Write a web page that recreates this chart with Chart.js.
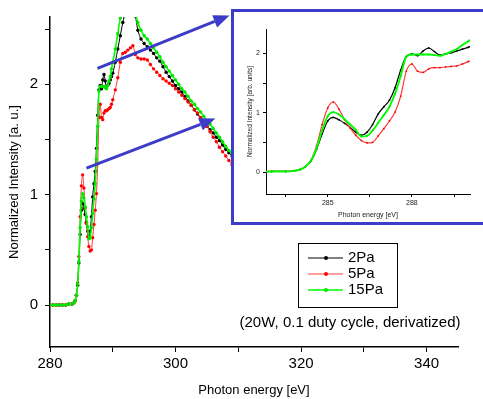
<!DOCTYPE html>
<html>
<head>
<meta charset="utf-8">
<script src="https://cdn.jsdelivr.net/npm/chart.js@4"></script>
<style>
body { margin: 0; background: #fff; overflow: hidden; }
#wrap { position: relative; width: 483px; height: 399px; overflow: hidden; }
#main { position: absolute; left: 0; top: 0; }
#inset-box { position: absolute; left: 231px; top: 9px; width: 260px; height: 210px; border: 3px solid #3c3cc8; background: #fff; }
#inset { position: absolute; left: 0; top: 0; }
</style>
</head>
<body>
<div id="wrap">
  <canvas id="main" width="483" height="399"></canvas>
  <div id="inset-box"><canvas id="inset" width="249" height="210"></canvas></div>
</div>
<script>
// energia dos fótons [eV]
const energia = [
  280, 280.5, 281, 281.5, 282, 282.5, 283, 283.5, 283.8, 284.0,
  284.2, 284.4, 284.6, 284.8, 285.0, 285.2, 285.4, 285.6, 285.8, 286.0,
  286.2, 286.4, 286.6, 286.8, 287.0, 287.2, 287.4, 287.6, 287.8, 288.0,
  288.2, 288.4, 288.6, 288.8, 289.0, 289.2, 289.4, 289.6, 289.8, 290.0,
  290.4, 290.8, 291.2, 291.6, 292.0, 292.4, 292.8, 293.2, 293.6, 294.0,
  294.5, 295, 295.5, 296, 296.5, 297, 297.5, 298, 298.5, 299,
  299.5, 300, 300.5, 301, 301.5, 302, 302.5, 303, 303.5, 304,
  304.5, 305, 305.5, 306, 306.5, 307, 307.5, 308, 308.5, 309,
  309.5, 310
];

// intensidade normalizada - 2Pa
const pa2 = [
  0, 0, 0, 0, 0, 0, 0.01, 0.01, 0.02, 0.04,
  0.09, 0.18, 0.38, 0.64, 0.86, 0.92, 0.88, 0.82, 0.75, 0.67,
  0.62, 0.67, 0.80, 0.98, 1.10, 1.21, 1.42, 1.72, 1.95, 1.99,
  1.96, 2.04, 2.09, 2.03, 1.97, 1.99, 2.01, 2.04, 2.07, 2.10,
  2.20, 2.32, 2.44, 2.56, 2.66, 2.72, 2.74, 2.70, 2.62, 2.49,
  2.41, 2.37, 2.34, 2.31, 2.28, 2.24, 2.21, 2.16, 2.11, 2.07,
  2.03, 1.99, 1.96, 1.93, 1.89, 1.85, 1.81, 1.77, 1.73, 1.69,
  1.66, 1.62, 1.59, 1.56, 1.52, 1.49, 1.45, 1.41, 1.38, 1.35,
  1.32, 1.29
];

// intensidade normalizada - 5Pa
const pa5 = [
  0, 0, 0, 0, 0, 0, 0.01, 0.01, 0.02, 0.04,
  0.09, 0.20, 0.44, 0.80, 1.08, 1.18, 1.06, 0.88, 0.74, 0.62,
  0.53, 0.49, 0.50, 0.61, 0.73, 0.86, 1.01, 1.28, 1.70, 1.82,
  1.70, 1.68, 1.74, 1.76, 1.76, 1.77, 1.78, 1.79, 1.82, 1.86,
  1.95, 2.06, 2.20, 2.28, 2.29, 2.31, 2.33, 2.35, 2.27, 2.24,
  2.23, 2.23, 2.22, 2.18, 2.14, 2.11, 2.08, 2.05, 2.03, 2.01,
  1.99, 1.96, 1.93, 1.90, 1.87, 1.84, 1.81, 1.77, 1.74, 1.70,
  1.66, 1.62, 1.57, 1.52, 1.48, 1.43, 1.39, 1.35, 1.31, 1.27,
  1.24, 1.21
];

// intensidade normalizada - 15Pa
const pa15 = [
  0, 0, 0, 0, 0, 0, 0.01, 0.01, 0.02, 0.04,
  0.09, 0.19, 0.40, 0.70, 0.94, 1.01, 0.97, 0.89, 0.80, 0.71,
  0.60, 0.61, 0.70, 0.83, 0.96, 1.10, 1.32, 1.62, 1.94, 1.98,
  1.98, 1.98, 1.98, 1.97, 1.96, 1.99, 2.03, 2.07, 2.14, 2.20,
  2.32, 2.46, 2.60, 2.68, 2.73, 2.74, 2.73, 2.70, 2.64, 2.56,
  2.49, 2.44, 2.41, 2.37, 2.33, 2.29, 2.25, 2.20, 2.16, 2.12,
  2.08, 2.04, 2.00, 1.96, 1.93, 1.89, 1.85, 1.82, 1.78, 1.75,
  1.71, 1.67, 1.64, 1.60, 1.56, 1.52, 1.48, 1.44, 1.40, 1.37,
  1.34, 1.31
];

const nomes = ['2Pa', '5Pa', '15Pa'];
const rotulosX = [280, 300, 320, 340];
const rotulosXInset = [285, 288];
const nota = '(20W, 0.1 duty cycle, derivatized)';

// setas: [x0, y0, x1, y1] em unidades dos eixos
const setas = [
  [287.56, 2.145, 308.6, 2.624],
  [285.8, 1.24, 306.35, 1.69]
];

const fonte = "'Liberation Sans', Arial, sans-serif";
Chart.defaults.font.family = fonte;
Chart.defaults.color = '#000';

const estilos = [
  { ponto: '#000000', linha: '#000000', larg: 1 },
  { ponto: '#ff0000', linha: '#ff3a3a', larg: 1 },
  { ponto: '#00e600', linha: '#00ff00', larg: 1.6 }
];

function conjuntos(raio, fator) {
  return [pa2, pa5, pa15].map((v, i) => ({
    label: nomes[i],
    data: energia.map((e, j) => ({ x: e, y: v[j] })),
    borderColor: estilos[i].linha,
    backgroundColor: estilos[i].ponto,
    pointBackgroundColor: estilos[i].ponto,
    pointBorderWidth: 0,
    pointRadius: raio,
    borderWidth: estilos[i].larg * fator,
    cubicInterpolationMode: 'monotone',
    order: 3 - i
  }));
}

// setas, legenda e nota
const extras = {
  id: 'extras',
  afterDraw(chart) {
    const ctx = chart.ctx, sx = chart.scales.x, sy = chart.scales.y;
    ctx.save();
    ctx.strokeStyle = '#3c3cc8';
    ctx.fillStyle = '#3c3cc8';
    ctx.lineWidth = 3;
    setas.forEach(s => {
      const x0 = sx.getPixelForValue(s[0]), y0 = sy.getPixelForValue(s[1]);
      const x1 = sx.getPixelForValue(s[2]), y1 = sy.getPixelForValue(s[3]);
      const a = Math.atan2(y1 - y0, x1 - x0);
      const bx = x1 - 16 * Math.cos(a), by = y1 - 16 * Math.sin(a);
      ctx.beginPath(); ctx.moveTo(x0, y0); ctx.lineTo(bx, by); ctx.stroke();
      ctx.beginPath();
      ctx.moveTo(x1, y1);
      ctx.lineTo(bx + 6.5 * Math.sin(a), by - 6.5 * Math.cos(a));
      ctx.lineTo(bx - 6.5 * Math.sin(a), by + 6.5 * Math.cos(a));
      ctx.closePath(); ctx.fill();
    });

    // legenda
    ctx.strokeStyle = '#000';
    ctx.lineWidth = 1;
    ctx.strokeRect(298.5, 243.5, 99, 64);
    ctx.font = '15px ' + fonte;
    ctx.textBaseline = 'middle';
    nomes.forEach((n, i) => {
      const y = 258 + 16 * i;
      ctx.strokeStyle = estilos[i].linha;
      ctx.lineWidth = estilos[i].larg;
      ctx.beginPath(); ctx.moveTo(308, y); ctx.lineTo(343, y); ctx.stroke();
      ctx.fillStyle = estilos[i].ponto;
      ctx.beginPath(); ctx.arc(326, y, 2, 0, Math.PI * 2); ctx.fill();
      ctx.fillStyle = '#000';
      ctx.textAlign = 'left';
      ctx.fillText(n, 348, y);
    });

    ctx.textAlign = 'center';
    ctx.fillText(nota, 350, 323);
    ctx.restore();
  }
};

// gráfico principal
new Chart(document.querySelector('#main'), {
  type: 'line',
  data: { datasets: conjuntos(1.7, 1) },
  options: {
    responsive: false,
    animation: false,
    devicePixelRatio: 1,
    layout: { padding: { top: 17, right: 25, left: 0, bottom: 0 } },
    plugins: { legend: { display: false }, tooltip: { enabled: false } },
    scales: {
      x: {
        type: 'linear',
        min: 280,
        max: 345,
        afterFit: s => { s.height = 52; },
        ticks: {
          stepSize: 10,
          includeBounds: false,
          maxRotation: 0,
          padding: 3,
          font: { size: 15 },
          callback: v => rotulosX.includes(v) ? v : ''
        },
        grid: { drawOnChartArea: false, color: '#000', tickLength: 5 },
        border: { color: '#000', width: 1.5 },
        title: { display: true, text: 'Photon energy [eV]', font: { size: 13 }, padding: { top: 0, bottom: 1 } }
      },
      y: {
        min: -0.38,
        max: 2.61,
        afterFit: s => { s.width = 50; },
        ticks: {
          stepSize: 0.5,
          includeBounds: false,
          padding: 7,
          font: { size: 15 },
          callback: v => Number.isInteger(v) ? v : ''
        },
        grid: { drawOnChartArea: false, color: '#000', tickLength: 5 },
        border: { color: '#000', width: 1.5 },
        title: { display: true, text: 'Normalized Intensity [a. u.]', font: { size: 13 }, padding: { top: 7, bottom: 0 } }
      }
    }
  },
  plugins: [extras]
});

// gráfico ampliado (inset)
new Chart(document.querySelector('#inset'), {
  type: 'line',
  data: { datasets: conjuntos(0.9, 1.2) },
  options: {
    responsive: false,
    animation: false,
    devicePixelRatio: 1,
    layout: { padding: { top: 17, right: 13, left: 0, bottom: 0 } },
    plugins: { legend: { display: false }, tooltip: { enabled: false } },
    scales: {
      x: {
        type: 'linear',
        min: 282.8,
        max: 290.07,
        afterFit: s => { s.height = 28; },
        ticks: {
          stepSize: 1.5,
          includeBounds: false,
          maxRotation: 0,
          padding: 2,
          font: { size: 7 },
          color: '#222',
          callback: v => rotulosXInset.includes(v) ? v : ''
        },
        grid: { drawOnChartArea: false, color: '#000', tickLength: 3 },
        border: { color: '#000', width: 1 },
        title: { display: true, text: 'Photon energy [eV]', color: '#222', font: { size: 7 }, padding: { top: 0, bottom: 3 } }
      },
      y: {
        min: -0.37,
        max: 2.41,
        afterFit: s => { s.width = 32; },
        ticks: {
          stepSize: 0.5,
          includeBounds: false,
          padding: 3,
          font: { size: 7 },
          color: '#222',
          callback: v => Number.isInteger(v) ? v : ''
        },
        grid: { drawOnChartArea: false, color: '#000', tickLength: 3 },
        border: { color: '#000', width: 1 },
        title: { display: true, text: 'Normalized Intensity [arb. units]', color: '#222', font: { size: 6.5 }, padding: { top: 12, bottom: 0 } }
      }
    }
  }
});
</script>
</body>
</html>
